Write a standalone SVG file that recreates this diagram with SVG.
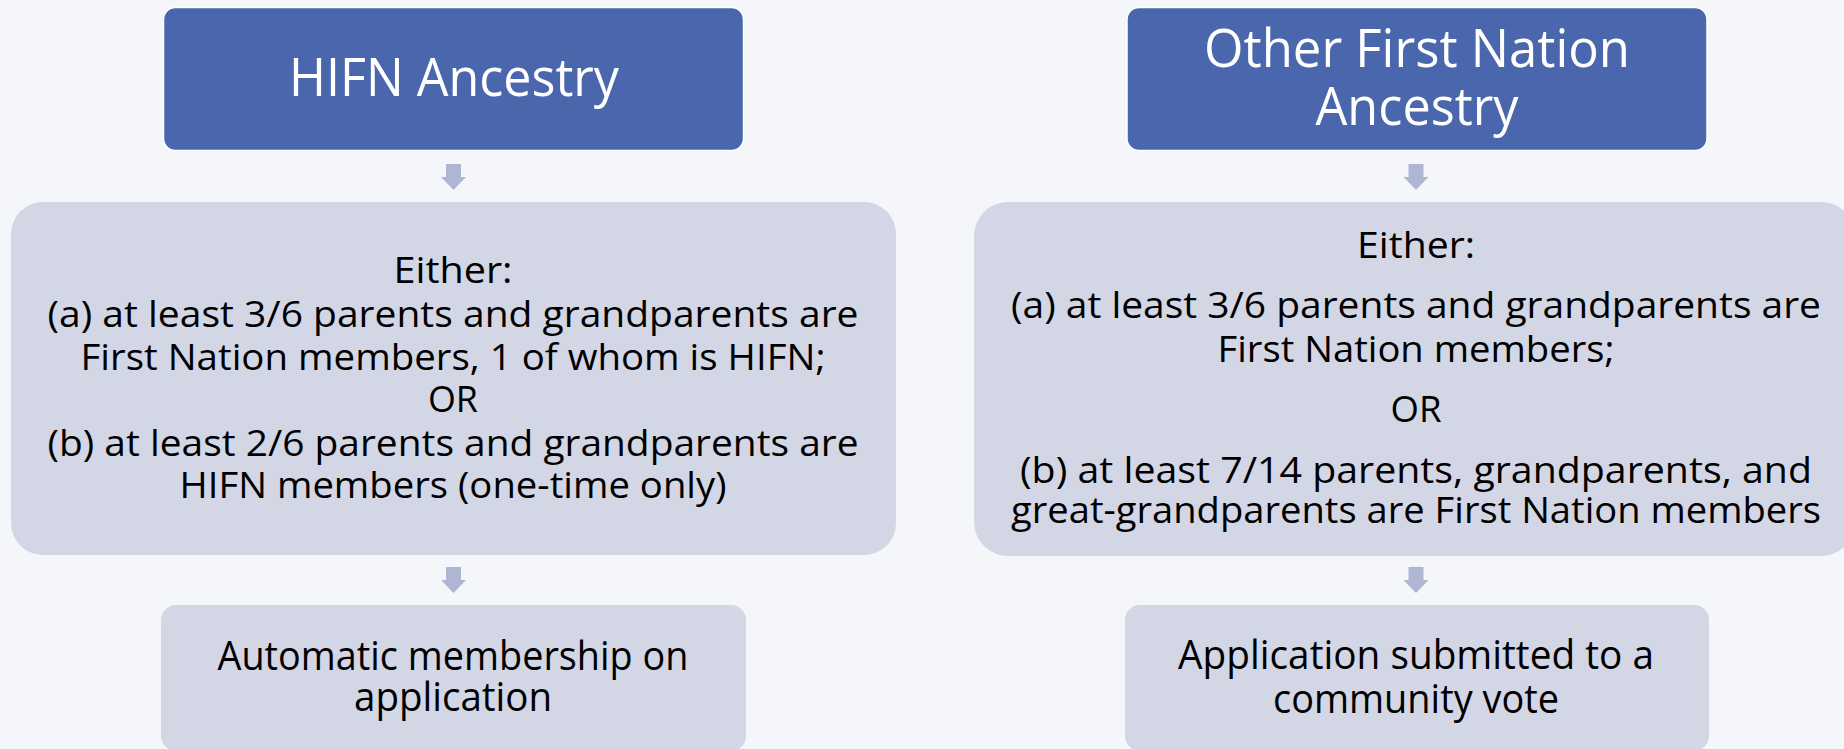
<svg xmlns="http://www.w3.org/2000/svg" xmlns:xlink="http://www.w3.org/1999/xlink" width="1844" height="749" viewBox="0 0 1844 749">
<style>
.title{fill:#4A67AE;stroke:#FFFFFF;stroke-width:1.5}
.light{fill:#D3D6E5}
.tw{font-family:"Open Sans","Liberation Sans",sans-serif;fill:#FFFFFF;font-size:53px;text-anchor:middle}
.tm{font-family:"Open Sans","Liberation Sans",sans-serif;fill:#000000;font-size:37px;text-anchor:middle}
.tb{font-family:"Open Sans","Liberation Sans",sans-serif;fill:#000000;font-size:41px;text-anchor:middle}
.arr{fill:#AFB6D3}
</style>
<defs>
<path id="arrow" class="arr" d="M-7.5,0 L7.5,0 L7.5,13 L12.5,13 L0,26 L-12.5,13 L-7.5,13 Z"/>
</defs>
<rect x="0" y="0" width="1844" height="749" fill="#F5F6FA"/>

<g id="hifn-ancestry">
<rect class="title" x="163.5" y="7.5" width="580" height="143" rx="12"/>
<text class="tw" x="454" y="96" textLength="330" lengthAdjust="spacingAndGlyphs">HIFN Ancestry</text>
</g>

<g id="other-ancestry">
<rect class="title" x="1127" y="7.5" width="580" height="143" rx="12"/>
<text class="tw" x="1417" y="67" textLength="426" lengthAdjust="spacingAndGlyphs">Other First Nation</text>
<text class="tw" x="1417" y="125" textLength="203" lengthAdjust="spacingAndGlyphs">Ancestry</text>
</g>

<g id="hifn-criteria">
<rect class="light" x="11" y="202" width="885" height="353" rx="32"/>
<text class="tm" x="453" y="283" textLength="119" lengthAdjust="spacingAndGlyphs">Either:</text>
<text class="tm" x="453" y="327" textLength="811" lengthAdjust="spacingAndGlyphs">(a) at least 3/6 parents and grandparents are</text>
<text class="tm" x="453" y="370" textLength="745" lengthAdjust="spacingAndGlyphs">First Nation members, 1 of whom is HIFN;</text>
<text class="tm" x="453" y="412" textLength="50" lengthAdjust="spacingAndGlyphs">OR</text>
<text class="tm" x="453" y="456" textLength="811" lengthAdjust="spacingAndGlyphs">(b) at least 2/6 parents and grandparents are</text>
<text class="tm" x="453" y="498" textLength="547" lengthAdjust="spacingAndGlyphs">HIFN members (one-time only)</text>
</g>

<g id="other-criteria">
<rect class="light" x="974" y="202" width="881" height="354" rx="34"/>
<text class="tm" x="1416" y="258" textLength="118" lengthAdjust="spacingAndGlyphs">Either:</text>
<text class="tm" x="1416" y="318" textLength="810" lengthAdjust="spacingAndGlyphs">(a) at least 3/6 parents and grandparents are</text>
<text class="tm" x="1416" y="362" textLength="397" lengthAdjust="spacingAndGlyphs">First Nation members;</text>
<text class="tm" x="1416" y="422" textLength="51" lengthAdjust="spacingAndGlyphs">OR</text>
<text class="tm" x="1416" y="483" textLength="792" lengthAdjust="spacingAndGlyphs">(b) at least 7/14 parents, grandparents, and</text>
<text class="tm" x="1416" y="523" textLength="810" lengthAdjust="spacingAndGlyphs">great-grandparents are First Nation members</text>
</g>

<g id="automatic-membership">
<rect class="light" x="161" y="605" width="585" height="146" rx="15"/>
<text class="tb" x="453" y="670" textLength="471" lengthAdjust="spacingAndGlyphs">Automatic membership on</text>
<text class="tb" x="453" y="711" textLength="198" lengthAdjust="spacingAndGlyphs">application</text>
</g>

<g id="community-vote">
<rect class="light" x="1125" y="605" width="584" height="146" rx="15"/>
<text class="tb" x="1416" y="669" textLength="476" lengthAdjust="spacingAndGlyphs">Application submitted to a</text>
<text class="tb" x="1416" y="713" textLength="286" lengthAdjust="spacingAndGlyphs">community vote</text>
</g>

<g id="connectors">
<use xlink:href="#arrow" href="#arrow" transform="translate(453.5,164)"/>
<use xlink:href="#arrow" href="#arrow" transform="translate(453.5,567)"/>
<use xlink:href="#arrow" href="#arrow" transform="translate(1416,164)"/>
<use xlink:href="#arrow" href="#arrow" transform="translate(1416,567)"/>
</g>
</svg>
